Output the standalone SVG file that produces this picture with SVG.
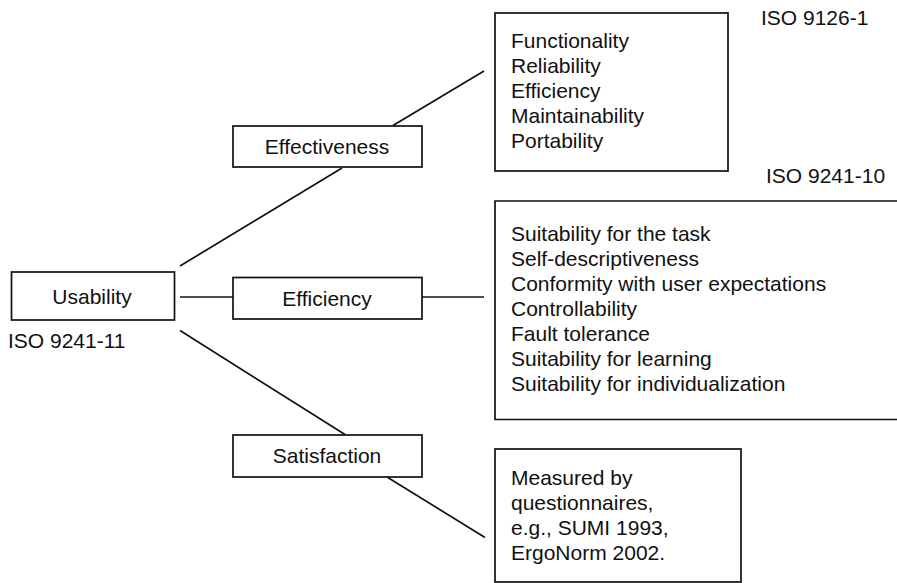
<svg xmlns="http://www.w3.org/2000/svg" width="897" height="583" viewBox="0 0 897 583">
  <style>
    .box { fill: #fff; stroke: #111; stroke-width: 1.7; }
    .edge { fill: none; stroke: #111; stroke-width: 1.7; }
    text { font-family: "Liberation Sans", Arial, Helvetica, sans-serif; font-size: 21px; fill: #111; }
    .c { text-anchor: middle; }
  </style>
  <rect width="897" height="583" fill="#fff"/>

  <!-- connectors -->
  <g id="connectors" class="edge">
    <line x1="180" y1="266" x2="342" y2="168"/>
    <line x1="393" y1="125.5" x2="484" y2="71"/>
    <line x1="180" y1="297" x2="233" y2="297"/>
    <line x1="422" y1="297" x2="484" y2="297"/>
    <line x1="180" y1="330.5" x2="345" y2="434.5"/>
    <line x1="387" y1="477" x2="485" y2="537.5"/>
  </g>

  <!-- root -->
  <g id="usability">
    <rect class="box" x="11.5" y="272" width="163" height="48"/>
    <text class="c" x="92" y="304">Usability</text>
    <text x="8" y="347.5">ISO 9241-11</text>
  </g>

  <!-- attributes -->
  <g id="effectiveness">
    <rect class="box" x="233" y="126" width="189" height="41"/>
    <text class="c" x="327" y="154">Effectiveness</text>
  </g>
  <g id="efficiency">
    <rect class="box" x="233" y="277.5" width="189" height="41.5"/>
    <text class="c" x="327" y="306">Efficiency</text>
  </g>
  <g id="satisfaction">
    <rect class="box" x="233" y="435" width="189" height="42"/>
    <text class="c" x="327" y="463">Satisfaction</text>
  </g>

  <!-- ISO 9126-1 quality characteristics -->
  <g id="iso9126">
    <rect class="box" x="495" y="13" width="233" height="158"/>
    <text x="511" y="48">Functionality</text>
    <text x="511" y="73">Reliability</text>
    <text x="511" y="98">Efficiency</text>
    <text x="511" y="123">Maintainability</text>
    <text x="511" y="148">Portability</text>
    <text x="761" y="24.5">ISO 9126-1</text>
  </g>

  <!-- ISO 9241-10 dialogue principles (box open to the right) -->
  <g id="iso9241-10">
    <path class="edge" d="M898 201 H495 V419.5 H898"/>
    <text x="511" y="241">Suitability for the task</text>
    <text x="511" y="266">Self-descriptiveness</text>
    <text x="511" y="291">Conformity with user expectations</text>
    <text x="511" y="316">Controllability</text>
    <text x="511" y="341">Fault tolerance</text>
    <text x="511" y="366">Suitability for learning</text>
    <text x="511" y="391">Suitability for individualization</text>
    <text x="766" y="182.5">ISO 9241-10</text>
  </g>

  <!-- satisfaction measurement -->
  <g id="measurement">
    <rect class="box" x="495" y="449" width="246" height="133"/>
    <text x="511" y="485">Measured by</text>
    <text x="511" y="510">questionnaires,</text>
    <text x="511" y="535">e.g., SUMI 1993,</text>
    <text x="511" y="560">ErgoNorm 2002.</text>
  </g>
</svg>
